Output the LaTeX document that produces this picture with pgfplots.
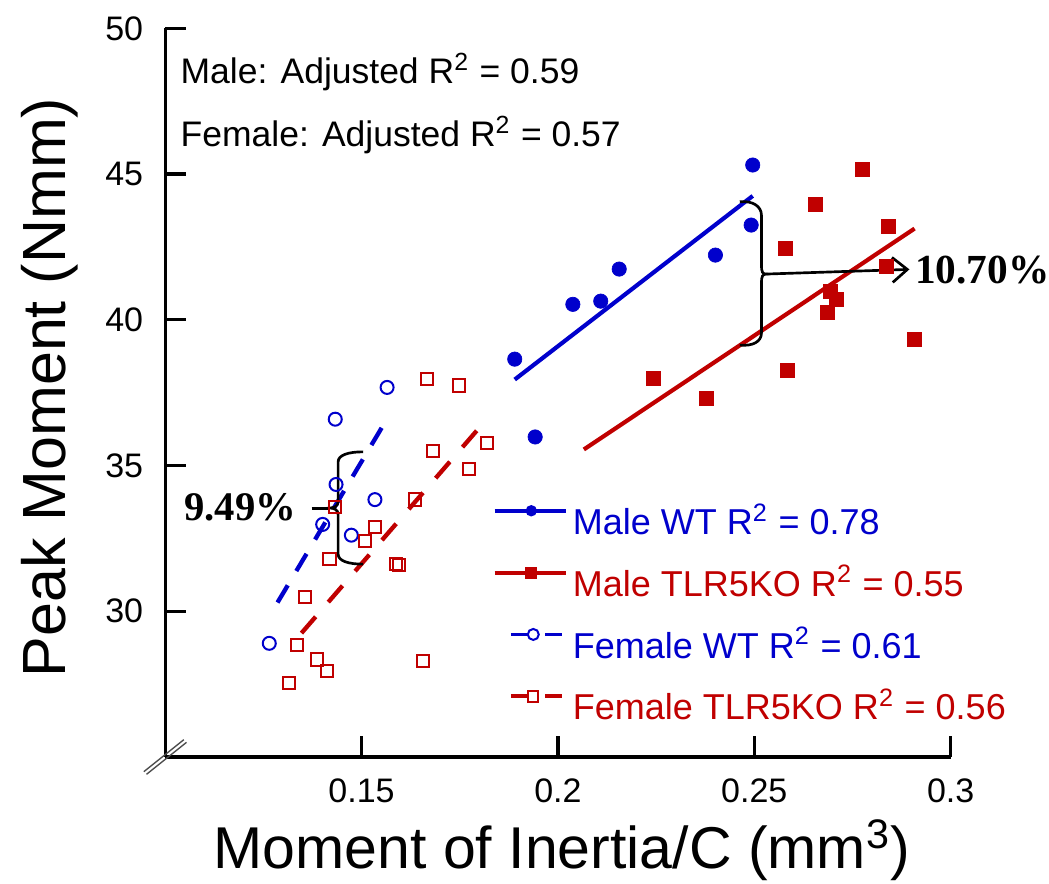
\documentclass[border=0pt]{standalone}
\usepackage{pgfplots}
\pgfplotsset{compat=1.18}
\usepackage{fontspec}
\setmainfont{Liberation Sans}
\newfontfamily\timesfont{Liberation Serif}
\usetikzlibrary{arrows.meta}
\definecolor{wtblue}{RGB}{0,0,204}
\definecolor{kored}{RGB}{192,0,0}

\begin{document}
\begin{tikzpicture}
\begin{axis}[
  scale only axis, width=235.65pt, height=218.6pt,
  xmin=0.1, xmax=0.3, ymin=25, ymax=50,
  axis x line*=bottom, axis y line*=left,
  axis line style={line width=1pt},
  xtick={0.15,0.2,0.25,0.3}, ytick={30,35,40,45,50},
  tick align=inside, major tick length=6.3pt,
  every tick/.style={black, line width=0.95pt},
  tick label style={font=\fontsize{10.2}{12}\selectfont},
  /pgf/number format/assume math mode=true,
  xticklabel style={yshift=-2.9pt},
  yticklabel style={xshift=-3.1pt},
  clip=false,
  every axis x label/.style={at={([yshift=-33.6pt]axis description cs:0.0609,0)}, anchor=base west, inner sep=0pt, font=\fontsize{17.7}{20}\selectfont},
  every axis y label/.style={at={([xshift=-29.9pt]axis description cs:0,0.507)}, rotate=90, anchor=base, inner sep=0pt, font=\fontsize{18.3}{20}\selectfont},
  xlabel={Moment of Inertia/C (mm\textsuperscript{3})},
  ylabel={Peak Moment (Nmm)},
  legend style={at={(axis cs:0.1832,33.72)}, anchor=north west, draw=none, fill=none,
    inner sep=0pt, row sep=7.8pt, column sep=0pt,
    font=\fontsize{10.8}{12}\selectfont,
    nodes={inner xsep=1.6pt, inner ysep=0pt}},
  legend cell align=left,
]
\coordinate (SW) at (rel axis cs:0,0);
\coordinate (NE) at (rel axis cs:1,1);

% Male WT
\addplot[only marks, mark=*, mark size=2.15pt, mark options={wtblue, fill=wtblue, line width=0.2pt}, forget plot] coordinates {
(0.2496,45.31) (0.2492,43.25) (0.2401,42.22) (0.2156,41.74)
(0.2109,40.64) (0.2038,40.53) (0.1890,38.65) (0.1942,35.98)};
% Male TLR5KO
\addplot[only marks, mark=square*, mark size=2.1pt, mark options={kored, fill=kored, line width=0.2pt}, forget plot] coordinates {
(0.2776,45.17) (0.2655,43.96) (0.2842,43.19) (0.2578,42.45)
(0.2837,41.84) (0.2693,40.96) (0.2710,40.71) (0.2685,40.25)
(0.2908,39.33) (0.2583,38.25) (0.2242,37.98) (0.2379,37.30)};
% Female WT
\addplot[only marks, mark=o, mark size=1.95pt, mark options={wtblue, line width=0.6pt}, forget plot] coordinates {
(0.1565,37.68) (0.1433,36.59) (0.1435,34.35) (0.1534,33.83)
(0.1401,32.98) (0.1474,32.61) (0.1265,28.90)};
% Female TLR5KO
\addplot[only marks, mark=square, mark size=1.85pt, mark options={kored, line width=0.6pt}, forget plot] coordinates {
(0.1667,37.96) (0.1748,37.75) (0.1820,35.77) (0.1682,35.50)
(0.1773,34.89) (0.1636,33.83) (0.1433,33.58) (0.1534,32.89)
(0.1508,32.40) (0.1418,31.79) (0.1587,31.63) (0.1595,31.58)
(0.1356,30.49) (0.1336,28.85) (0.1387,28.35) (0.1412,27.95)
(0.1316,27.54) (0.1657,28.29)};

% regression lines
\addplot[wtblue, line width=1.25pt, forget plot] coordinates {(0.1890,37.95) (0.2496,44.25)};
\addplot[kored, line width=1.25pt, forget plot] coordinates {(0.2066,35.55) (0.2908,43.13)};
\addplot[wtblue, line width=1.3pt, dash pattern=on 6pt off 5pt, forget plot] coordinates {(0.1286,30.30) (0.1555,36.38)};
\addplot[kored, line width=1.3pt, dash pattern=on 6.5pt off 5.8pt, forget plot] coordinates {(0.1347,29.25) (0.1809,36.44)};

% legend
\addlegendimage{legend image code/.code={
  \path (0pt,0pt) (21.3pt,0pt);
  \draw[wtblue, line width=1.2pt] (0pt,3.2pt) -- (21.3pt,3.2pt);
  \fill[wtblue] (11pt,3.2pt) circle (1.5pt);}}
\addlegendentry{\textcolor{wtblue}{Male WT R\textsuperscript{2} = 0.78}}
\addlegendimage{legend image code/.code={
  \path (0pt,0pt) (21.3pt,0pt);
  \draw[kored, line width=1.2pt] (0pt,3.2pt) -- (21.3pt,3.2pt);
  \fill[kored] (9.4pt,1.6pt) rectangle (12.6pt,4.8pt);}}
\addlegendentry{\textcolor{kored}{Male TLR5KO R\textsuperscript{2} = 0.55}}
\addlegendimage{legend image code/.code={
  \path (0pt,0pt) (21.3pt,0pt);
  \draw[wtblue, line width=1.1pt] (4.9pt,3.2pt) -- (10pt,3.2pt);
  \draw[wtblue, line width=1.1pt] (15.2pt,3.2pt) -- (20.2pt,3.2pt);
  \draw[wtblue, line width=0.6pt, fill=white] (11.6pt,3.2pt) circle (1.65pt);}}
\addlegendentry{\textcolor{wtblue}{Female WT R\textsuperscript{2} = 0.61}}
\addlegendimage{legend image code/.code={
  \path (0pt,0pt) (21.3pt,0pt);
  \draw[kored, line width=1.1pt] (4.9pt,3.2pt) -- (10pt,3.2pt);
  \draw[kored, line width=1.1pt] (15.2pt,3.2pt) -- (20.2pt,3.2pt);
  \draw[kored, line width=0.6pt, fill=white] (9.9pt,1.6pt) rectangle (13.1pt,4.8pt);}}
\addlegendentry{\textcolor{kored}{Female TLR5KO R\textsuperscript{2} = 0.56}}

% annotations
\node[anchor=base west, inner sep=0pt, font=\fontsize{10.65}{12}\selectfont] at (axis cs:0.10377,48.11) {Male: Adjusted R\textsuperscript{2} = 0.59};
\node[anchor=base west, inner sep=0pt, font=\fontsize{10.65}{12}\selectfont] at (axis cs:0.10377,45.94) {Female: Adjusted R\textsuperscript{2} = 0.57};

% 10.70% brace
\draw[line width=0.8pt] (axis cs:0.2463,44.05)
  .. controls +(4pt,0.4pt) and +(0pt,2.5pt) .. ++(6.5pt,-4pt)
  -- ++(0pt,-15pt)
  .. controls +(0pt,-2pt) and +(-1.2pt,0pt) .. ++(1.5pt,-2.7pt)
  .. controls +(-1.2pt,0pt) and +(0pt,2pt) .. ++(-1.5pt,-2.7pt)
  -- ++(0pt,-15pt)
  .. controls +(0pt,-2.5pt) and +(4pt,-0.4pt) .. ++(-6.5pt,-3.6pt);
\draw[line width=0.8pt, -{Straight Barb[length=4.5pt,width=7.5pt,line width=0.8pt]}] (axis cs:0.2531,41.57) -- (axis cs:0.2895,41.73);
\node[anchor=base west, inner sep=0pt, font=\timesfont\bfseries\fontsize{12.4}{14}\selectfont] at (axis cs:0.2908,41.25) {10.70\%};

% 9.49% brace
\draw[line width=0.8pt] (axis cs:0.1504,35.47)
  .. controls +(-4.5pt,0pt) and +(0pt,2pt) .. ++(-7.5pt,-3pt)
  -- ++(0pt,-11.85pt)
  .. controls +(0pt,-1.5pt) and +(1.2pt,0pt) .. ++(-2.5pt,-2pt)
  .. controls +(1.2pt,0pt) and +(0pt,1.5pt) .. ++(2.5pt,-2pt)
  -- ++(0pt,-11.85pt)
  .. controls +(0pt,-2pt) and +(-4.5pt,0pt) .. ++(7.5pt,-3pt);
\draw[line width=0.8pt] (axis cs:0.1373,33.53) -- (axis cs:0.1419,33.53);
\node[anchor=base east, inner sep=0pt, font=\timesfont\bfseries\fontsize{12.2}{14}\selectfont] at (axis cs:0.1335,33.12) {9.49\%};

% axis break marks
\draw[line width=0.4pt, black!70] ([shift={(-6.4pt,-4.4pt)}]rel axis cs:0,0) -- ([shift={(5.6pt,5.2pt)}]rel axis cs:0,0);
\draw[line width=0.4pt, black!70] ([shift={(-5.6pt,-5.2pt)}]rel axis cs:0,0) -- ([shift={(6.4pt,4.4pt)}]rel axis cs:0,0);
\end{axis}
\pgfresetboundingbox
\path[use as bounding box] ([xshift=-49.56pt,yshift=-38.1pt]SW) rectangle ([xshift=29.5pt,yshift=8.5pt]NE);
\end{tikzpicture}
\end{document}
